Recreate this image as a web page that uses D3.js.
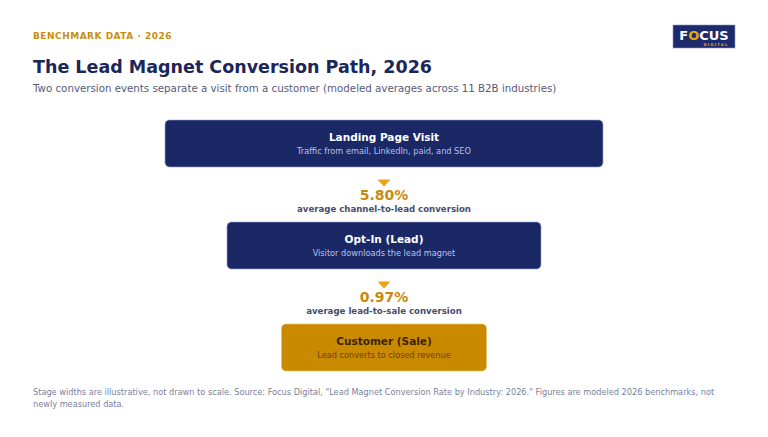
<!DOCTYPE html>
<html><head><meta charset="utf-8">
<script src="https://cdn.jsdelivr.net/npm/d3@7"></script>
<style>
html,body{margin:0;padding:0;background:#fff;}
svg{display:block;font-family:"DejaVu Sans",sans-serif;}
</style></head>
<body>
<svg id="c" width="768" height="437"></svg>
<script>
const stageNames = ["Landing Page Visit", "Opt-In (Lead)", "Customer (Sale)"];
const stageNotes = ["Traffic from email, LinkedIn, paid, and SEO", "Visitor downloads the lead magnet", "Lead converts to closed revenue"];
const rateValues = [5.80, 0.97];
const rateLabels = ["average channel-to-lead conversion", "average lead-to-sale conversion"];
const eyebrow = "BENCHMARK DATA · 2026";
const title = "The Lead Magnet Conversion Path, 2026";
const subtitle = "Two conversion events separate a visit from a customer (modeled averages across 11 B2B industries)";
const footLines = ["Stage widths are illustrative, not drawn to scale. Source: Focus Digital, \"Lead Magnet Conversion Rate by Industry: 2026.\" Figures are modeled 2026 benchmarks, not",
  "newly measured data."];

const svg = d3.select("#c");
const cx = 384;
const navy = "#1b2866", gold = "#c98a00", orange = "#e8a317";

svg.append("text").attr("x", 33).attr("y", 39).text(eyebrow)
  .attr("font-size", 9).attr("font-weight", "bold").attr("letter-spacing", 0.5).attr("fill", "#c8900c");
svg.append("text").attr("x", 33).attr("y", 73).text(title)
  .attr("font-size", 17.5).attr("font-weight", "bold").attr("fill", "#1b2659");
svg.append("text").attr("x", 33).attr("y", 92).text(subtitle)
  .attr("font-size", 10.25).attr("fill", "#555b78");

// logo
const lg = svg.append("g").attr("transform", "translate(673,25)");
lg.append("rect").attr("width", 62).attr("height", 23).attr("fill", "#1d2a6b").attr("stroke", "#8f98c4").attr("stroke-width", 0.6);
const lt = lg.append("text").attr("x", 31).attr("y", 14.5).attr("text-anchor", "middle")
  .attr("font-size", 13).attr("font-weight", "bold").attr("fill", "#fff");
lt.append("tspan").text("F");
lt.append("tspan").text("O").attr("fill", orange);
lt.append("tspan").text("CUS");
lg.append("text").attr("x", 43).attr("y", 20.5).attr("text-anchor", "middle").text("DIGITAL")
  .attr("font-size", 3.8).attr("font-weight", "bold").attr("letter-spacing", 1.2).attr("fill", orange);

// stage layout through scales (widths illustrative)
const idx = d3.range(stageNames.length);
const y = d3.scaleLinear().domain([0, stageNames.length - 1]).range([120, 324]);
const w = d3.scaleLinear().domain([0, 1, 2]).range([438, 314, 205]);
const boxH = 47;

const g = svg.selectAll("g.stage").data(idx).join("g").attr("class", "stage");
g.append("rect")
  .attr("x", i => cx - w(i) / 2).attr("y", i => y(i))
  .attr("width", i => w(i)).attr("height", boxH).attr("rx", 4.5)
  .attr("fill", i => i === stageNames.length - 1 ? gold : navy)
  .attr("stroke", i => i === stageNames.length - 1 ? "#e6c070" : "#9aa3cc").attr("stroke-width", 0.6);
g.append("text").attr("x", cx).attr("y", i => y(i) + 21).attr("text-anchor", "middle")
  .text(i => stageNames[i]).attr("font-size", 10.5).attr("font-weight", "bold")
  .attr("fill", i => i === stageNames.length - 1 ? "#3b2600" : "#ffffff");
g.append("text").attr("x", cx).attr("y", i => y(i) + 34).attr("text-anchor", "middle")
  .text(i => stageNotes[i]).attr("font-size", 8.2)
  .attr("fill", i => i === stageNames.length - 1 ? "#6a4300" : "#b7c1ea");

// conversion connectors
const fmt = d3.format(".2f");
const cg = svg.selectAll("g.conv").data(rateValues).join("g").attr("class", "conv");
cg.append("path")
  .attr("d", (d, i) => { const t = y(i) + boxH + 12.5; return `M${cx - 6.5},${t}L${cx + 6.5},${t}L${cx},${t + 7}Z`; })
  .attr("fill", orange);
cg.append("text").attr("x", cx).attr("y", (d, i) => y(i) + boxH + 32.5).attr("text-anchor", "middle")
  .text(d => fmt(d) + "%").attr("font-size", 14).attr("font-weight", "bold").attr("fill", "#c98a0c");
cg.append("text").attr("x", cx).attr("y", (d, i) => y(i) + boxH + 45).attr("text-anchor", "middle")
  .text((d, i) => rateLabels[i]).attr("font-size", 8.6).attr("font-weight", "bold").attr("fill", "#474c6b");

// footnote
svg.selectAll("text.foot").data(footLines).join("text").attr("class", "foot")
  .attr("x", 33).attr("y", (d, i) => 395 + i * 12).text(d => d)
  .attr("font-size", 8.2).attr("fill", "#7a7f9b");
</script>
</body></html>
